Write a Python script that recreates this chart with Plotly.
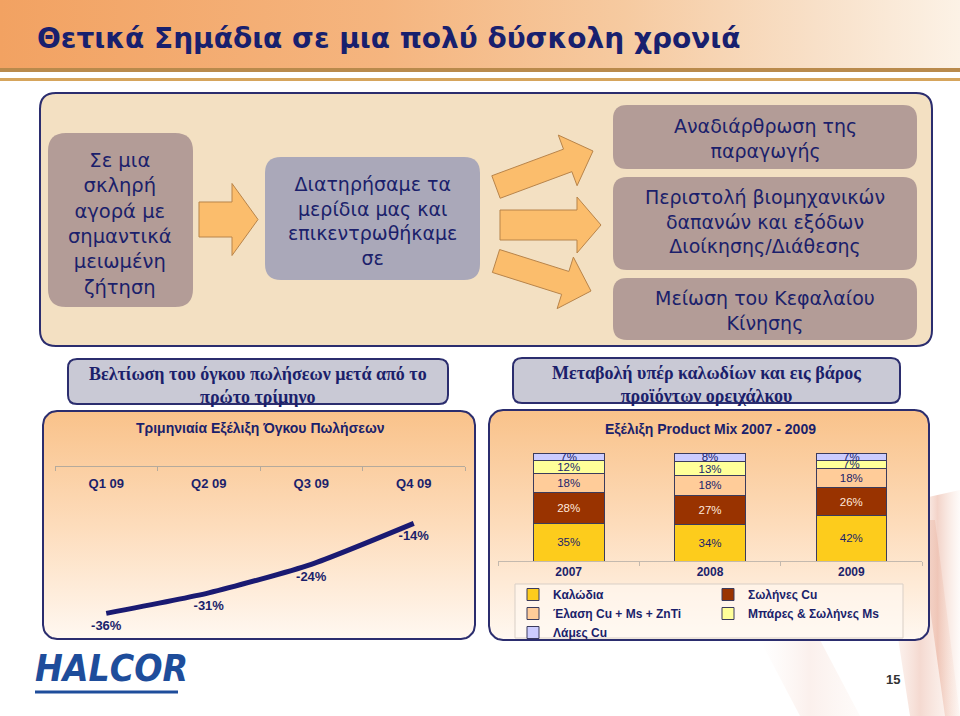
import math
import plotly.graph_objects as go

# ---------------- data ----------------
quarters = ["Q1 09", "Q2 09", "Q3 09", "Q4 09"]
volume_change = [-36, -31, -24, -14]

years = ["2007", "2008", "2009"]
kalodia = [35, 34, 42]          # Καλώδια
solines_cu = [28, 27, 26]       # Σωλήνες Cu
elasi = [18, 18, 18]            # Έλαση Cu + Ms + ZnTi
mpares = [12, 13, 7]            # Μπάρες & Σωλήνες Ms
lames = [7, 8, 7]               # Λάμες Cu

series_names = ["Καλώδια", "Σωλήνες Cu", "Έλαση Cu + Ms + ZnTi", "Μπάρες & Σωλήνες Ms", "Λάμες Cu"]
series_values = [kalodia, solines_cu, elasi, mpares, lames]
series_colors = ["#fdcc1c", "#993300", "#ffcc99", "#ffff99", "#ccccff"]
series_text_colors = ["#1b1f6b", "#ffe8dc", "#1b1f6b", "#1b1f6b", "#1b1f6b"]
series_legend = ["legend", "legend2", "legend", "legend2", "legend"]

# ---------------- helpers ----------------
W, H = 960, 716
NAVY = "#1b1f6b"
BOXFONT = "DejaVu Sans"
SANS = "Liberation Sans"
SERIF = "Liberation Serif"


def px(x):
    return x / W


def py(y):
    return 1 - y / H


def P(x, y):
    return f"{px(x):.5f},{py(y):.5f}"


def rrect_path(x0, y0, x1, y1, r):
    return (f"M{P(x0 + r, y0)} L{P(x1 - r, y0)} Q{P(x1, y0)} {P(x1, y0 + r)} "
            f"L{P(x1, y1 - r)} Q{P(x1, y1)} {P(x1 - r, y1)} L{P(x0 + r, y1)} "
            f"Q{P(x0, y1)} {P(x0, y1 - r)} L{P(x0, y0 + r)} Q{P(x0, y0)} {P(x0 + r, y0)} Z")


def rrect_pts(x0, y0, x1, y1, r, n=8):
    xs, ys = [], []
    corners = [(x1 - r, y0 + r, -90, 0), (x1 - r, y1 - r, 0, 90),
               (x0 + r, y1 - r, 90, 180), (x0 + r, y0 + r, 180, 270)]
    for cx, cy, a0, a1 in corners:
        for i in range(n + 1):
            a = math.radians(a0 + (a1 - a0) * i / n)
            xs.append(cx + r * math.cos(a))
            ys.append(cy + r * math.sin(a))
    xs.append(xs[0])
    ys.append(ys[0])
    return xs, ys


def arrow_path(tail, tip, bw, hw, hl):
    dx, dy = tip[0] - tail[0], tip[1] - tail[1]
    L = math.hypot(dx, dy)
    ux, uy = dx / L, dy / L
    nx, ny = -uy, ux
    bx, by = tip[0] - ux * hl, tip[1] - uy * hl
    pts = [(tail[0] + nx * bw, tail[1] + ny * bw), (bx + nx * bw, by + ny * bw),
           (bx + nx * hw, by + ny * hw), tip, (bx - nx * hw, by - ny * hw),
           (bx - nx * bw, by - ny * bw), (tail[0] - nx * bw, tail[1] - ny * bw)]
    return "M" + " L".join(P(x, y) for x, y in pts) + " Z"


fig = go.Figure()

# ---------------- background decorations (pixel axes) ----------------
fig.add_trace(go.Scatter(
    x=[0, 960, 960, 0, 0], y=[0, 0, 68, 68, 0], fill="toself", mode="lines",
    line=dict(width=0), hoverinfo="skip", showlegend=False,
    fillgradient=dict(type="horizontal", colorscale=[
        [0, "#f2a262"], [0.4, "#f5b57f"], [0.65, "#f6caa0"], [0.85, "#f8e0c8"], [1, "#fcf2e6"]]),
    xaxis="x", yaxis="y"))

for poly, alpha in [([(880, 520), (935, 520), (960, 716), (910, 716)], 0.30),
                    ([(915, 500), (960, 490), (960, 716), (945, 716)], 0.35),
                    ([(760, 640), (820, 640), (860, 716), (800, 716)], 0.12)]:
    xs = [p[0] for p in poly] + [poly[0][0]]
    ys = [p[1] for p in poly] + [poly[0][1]]
    fig.add_trace(go.Scatter(
        x=xs, y=ys, fill="toself", mode="lines", line=dict(width=0),
        hoverinfo="skip", showlegend=False,
        fillgradient=dict(type="horizontal", colorscale=[
            [0, "rgba(235,170,140,0)"], [0.5, f"rgba(220,130,100,{alpha})"], [1, "rgba(235,170,140,0.05)"]]),
        xaxis="x", yaxis="y"))

for (x0, y0, x1, y1) in [(43, 411, 475, 639), (489, 410, 929, 640)]:
    xs, ys = rrect_pts(x0, y0, x1, y1, 14)
    fig.add_trace(go.Scatter(
        x=xs, y=ys, fill="toself", mode="lines", line=dict(color="#2b2d6e", width=2),
        hoverinfo="skip", showlegend=False,
        fillgradient=dict(type="vertical", colorscale=[[0, "#fff8f1"], [0.5, "#fddcbb"], [1, "#f9c28a"]]),
        xaxis="x", yaxis="y"))

# ---------------- line chart ----------------
fig.add_trace(go.Scatter(
    x=quarters, y=volume_change, mode="lines+markers+text",
    line=dict(color="#1a1a72", width=5, shape="spline", smoothing=0.6),
    marker=dict(size=10, color="rgba(0,0,0,0)"),
    text=[f"{v}%" for v in volume_change], textposition="bottom center",
    textfont=dict(family=SANS, size=13, color=NAVY, weight="bold"),
    hoverinfo="skip", showlegend=False, xaxis="x2", yaxis="y2"))

# ---------------- stacked bars ----------------
for name, vals, col, tcol, lg in zip(series_names, series_values, series_colors,
                                     series_text_colors, series_legend):
    fig.add_trace(go.Bar(
        x=years, y=vals, name=name, marker=dict(color=col, line=dict(color="#3b3b5c", width=1)),
        text=[f"{v}%" for v in vals], textposition="inside", insidetextanchor="middle",
        constraintext="none", textangle=0, cliponaxis=False,
        textfont=dict(family=SANS, size=11.5, color=tcol),
        hoverinfo="skip", legend=lg, xaxis="x3", yaxis="y3"))

# ---------------- shapes ----------------
shapes = []
shapes.append(dict(type="rect", xref="paper", yref="paper", x0=0, x1=1, y0=py(72), y1=py(68),
                   fillcolor="#b98a4c", line=dict(width=0), layer="below"))
shapes.append(dict(type="rect", xref="paper", yref="paper", x0=0, x1=1, y0=py(81), y1=py(78),
                   fillcolor="#d6a55c", line=dict(width=0), layer="below"))
shapes.append(dict(type="path", xref="paper", yref="paper", path=rrect_path(40, 93, 932, 346, 16),
                   fillcolor="#f3e0c2", line=dict(color="#2b2d6e", width=2), layer="below"))
for (x0, y0, x1, y1, r, c) in [(48, 133, 193, 307, 18, "#b39c97"),
                               (265, 157, 480, 280, 16, "#aaa8b9"),
                               (613, 105, 917, 169, 14, "#b39c97"),
                               (613, 177, 917, 270, 14, "#b39c97"),
                               (613, 278, 917, 340, 14, "#b39c97")]:
    shapes.append(dict(type="path", xref="paper", yref="paper", path=rrect_path(x0, y0, x1, y1, r),
                       fillcolor=c, line=dict(width=0), layer="below"))
for tail, tip, bw, hw, hl in [((199, 219.5), (258, 219.5), 17.5, 36, 26),
                              ((500, 225), (601, 225), 15, 28, 24),
                              ((496, 187), (593, 151), 12, 27, 27),
                              ((496, 261), (591, 291), 12, 27, 27)]:
    shapes.append(dict(type="path", xref="paper", yref="paper", path=arrow_path(tail, tip, bw, hw, hl),
                       fillcolor="#fbbd6c", line=dict(color="#b8844a", width=1), layer="below"))
for (x0, y0, x1, y1) in [(68, 359, 448, 404), (513, 358, 900, 403)]:
    shapes.append(dict(type="path", xref="paper", yref="paper", path=rrect_path(x0, y0, x1, y1, 9),
                       fillcolor="#c9c9d5", line=dict(color="#2b2d6e", width=2), layer="below"))
shapes.append(dict(type="rect", xref="paper", yref="paper", x0=px(515), x1=px(903), y0=py(638), y1=py(584),
                   fillcolor="rgba(255,250,244,0.55)", line=dict(color="#d9cfc6", width=1), layer="above"))
shapes.append(dict(type="line", xref="paper", yref="paper", x0=px(35), x1=px(178), y0=py(692), y1=py(692),
                   line=dict(color="#1e4d9b", width=3)))

# ---------------- annotations ----------------
ann = []


def txt(x, y, s, size, family=BOXFONT, color=NAVY, weight="normal", xanchor="center", style="normal"):
    ann.append(dict(x=px(x), y=py(y), xref="paper", yref="paper", text=s, showarrow=False,
                    xanchor=xanchor, yanchor="middle", align="center",
                    font=dict(family=family, size=size, color=color, weight=weight, style=style)))


txt(35, 38, "Θετικά Σημάδια σε μια πολύ δύσκολη χρονιά", 28, BOXFONT, "#18206e", "bold", "left")
txt(120, 224, "Σε μια<br>σκληρή<br>αγορά με<br>σημαντικά<br>μειωμένη<br>ζήτηση", 19.5)
txt(372, 221, "Διατηρήσαμε τα<br>μερίδια μας και<br>επικεντρωθήκαμε<br>σε", 19)
txt(765, 139, "Αναδιάρθρωση της<br>παραγωγής", 19)
txt(765, 221, "Περιστολή βιομηχανικών<br>δαπανών και εξόδων<br>Διοίκησης/Διάθεσης", 19)
txt(765, 310, "Μείωση του Κεφαλαίου<br>Κίνησης", 19)
txt(258, 385, "Βελτίωση του όγκου πωλήσεων μετά από το<br>πρώτο τρίμηνο", 18, SERIF, NAVY, "bold")
txt(706, 384, "Μεταβολή υπέρ καλωδίων και εις βάρος<br>προϊόντων ορειχάλκου", 18, SERIF, NAVY, "bold")
txt(260, 428, "Τριμηνιαία Εξέλιξη Όγκου Πωλήσεων", 14, SANS, NAVY, "bold")
txt(710, 429, "Εξέλιξη Product Mix 2007 - 2009", 14, SANS, NAVY, "bold")
txt(33, 668, "HALCOR", 37, "Liberation Sans Narrow, DejaVu Sans Condensed, Liberation Sans, sans-serif",
    "#1e4d9b", "bold", "left", "italic")
txt(893, 679, "15", 13, SANS, "#333333", "bold")

legend_common = dict(
    orientation="v", xanchor="left", yanchor="top", bgcolor="rgba(0,0,0,0)",
    font=dict(family=SANS, size=12, color=NAVY, weight="bold"), traceorder="normal",
    itemclick=False, itemdoubleclick=False, borderwidth=0)

fig.update_layout(
    width=W, height=H, margin=dict(l=0, r=0, t=0, b=0),
    paper_bgcolor="white", plot_bgcolor="rgba(0,0,0,0)",
    barmode="stack", bargap=0.5, showlegend=True,
    shapes=shapes, annotations=ann,
    xaxis=dict(domain=[0, 1], range=[0, W], visible=False, fixedrange=True),
    yaxis=dict(domain=[0, 1], range=[H, 0], visible=False, fixedrange=True),
    xaxis2=dict(domain=[px(55), px(465)], anchor="free", position=py(466), side="bottom",
                type="category", range=[-0.5, 3.5], showline=True, linecolor="#b5aa9c", linewidth=1,
                ticks="outside", ticklen=4, tickcolor="#b5aa9c", tickson="boundaries",
                showgrid=False, zeroline=False, ticklabelstandoff=5,
                tickfont=dict(family=SANS, size=13, color=NAVY, weight="bold")),
    yaxis2=dict(domain=[py(640), py(466)], range=[-42.5, 0], visible=False, anchor="x2"),
    xaxis3=dict(domain=[px(498), px(922)], anchor="y3", type="category", range=[-0.5, 2.5],
                showline=True, linecolor="#c4b9ae", linewidth=1, ticks="outside", ticklen=4,
                tickcolor="#c4b9ae", tickson="boundaries", showgrid=False, zeroline=False,
                tickfont=dict(family=SANS, size=12, color=NAVY, weight="bold")),
    yaxis3=dict(domain=[py(561), py(453)], range=[0, 100], visible=False, anchor="x3"),
    legend=dict(x=px(513), y=py(580), **legend_common),
    legend2=dict(x=px(708), y=py(580), **legend_common),
)

fig.write_html("out.html")
